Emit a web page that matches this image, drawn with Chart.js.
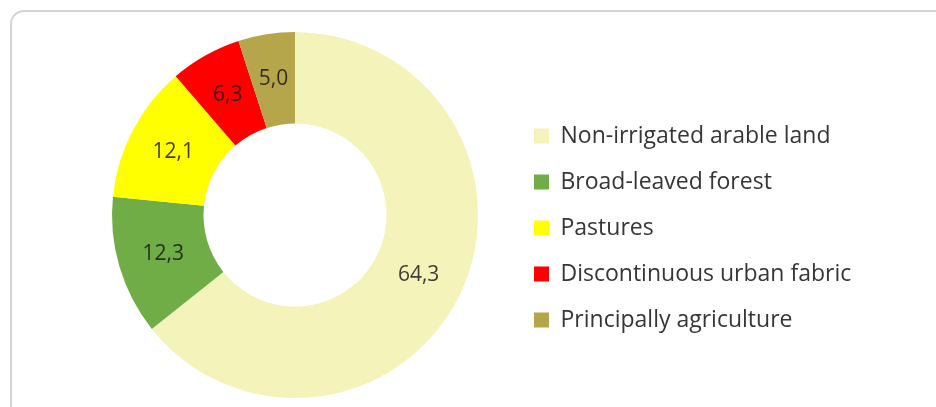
<!DOCTYPE html>
<html>
<head>
<meta charset="utf-8">
<title>Land cover shares</title>
<script src="https://cdn.jsdelivr.net/npm/chart.js@4"></script>
<style>
  html, body { margin: 0; padding: 0; background: #fff; }
  body { width: 936px; height: 407px; overflow: hidden; position: relative; }
  .frame {
    position: absolute; left: 10px; top: 10px; width: 940px; height: 430px;
    border: 2px solid #d4d4d4; border-radius: 14px; box-sizing: border-box;
  }
  #chart { position: absolute; left: 0; top: 0; }
</style>
</head>
<body>
<div class="frame"></div>
<canvas id="chart" width="936" height="407"></canvas>
<script>
// land cover classes, share of area in %
const landCover = [
  "Non-irrigated arable land",
  "Broad-leaved forest",
  "Pastures",
  "Discontinuous urban fabric",
  "Principally agriculture",
];
const shares = [64.3, 12.3, 12.1, 6.3, 5.0];
const sliceColours = ["#f3f3ba", "#70ad47", "#ffff00", "#ff0000", "#b5a64c"];

const legendFontSize = 23;
const legendPad = 23;
const boxSize = 15;

// decimal comma like the source
const formatShare = (v) => v.toFixed(1).replace(".", ",");

// work out legend width so the doughnut lands where it should
const measure = document.createElement("canvas").getContext("2d");
measure.font = legendFontSize + 'px "Open Sans"';
const longest = Math.max(...landCover.map((t) => measure.measureText(t).width));
const legendWidth = legendPad + boxSize + legendFontSize / 2 + longest + 10;
const legendLeft = 534 - legendPad;
const padLeft = 2 * 295 - legendLeft;
const padRight = 936 - legendLeft - legendWidth;

const sliceLabels = {
  id: "sliceLabels",
  afterDatasetsDraw(chart) {
    const { ctx } = chart;
    const meta = chart.getDatasetMeta(0);
    ctx.save();
    ctx.font = '21px "Open Sans"';
    ctx.fillStyle = "rgba(20,20,20,0.82)";
    ctx.textAlign = "center";
    ctx.textBaseline = "middle";
    meta.data.forEach((arc, i) => {
      const p = arc.tooltipPosition();
      ctx.fillText(formatShare(shares[i]), p.x, p.y);
    });
    ctx.restore();
  },
};

Chart.defaults.font.family = '"Open Sans", sans-serif';

new Chart(document.getElementById("chart"), {
  type: "doughnut",
  data: {
    labels: landCover,
    datasets: [
      {
        data: shares,
        backgroundColor: sliceColours,
        borderWidth: 0,
      },
    ],
  },
  options: {
    responsive: false,
    animation: false,
    events: [],
    cutout: "50%",
    layout: { padding: { top: 32, bottom: 9, left: padLeft, right: padRight } },
    plugins: {
      tooltip: { enabled: false },
      legend: {
        position: "right",
        title: { display: true, text: "", padding: 7, font: { size: 10 } },
        labels: {
          boxWidth: boxSize,
          boxHeight: boxSize,
          padding: legendPad,
          color: "#363636",
          font: { size: legendFontSize },
        },
      },
    },
  },
  plugins: [sliceLabels],
});
</script>
</body>
</html>
